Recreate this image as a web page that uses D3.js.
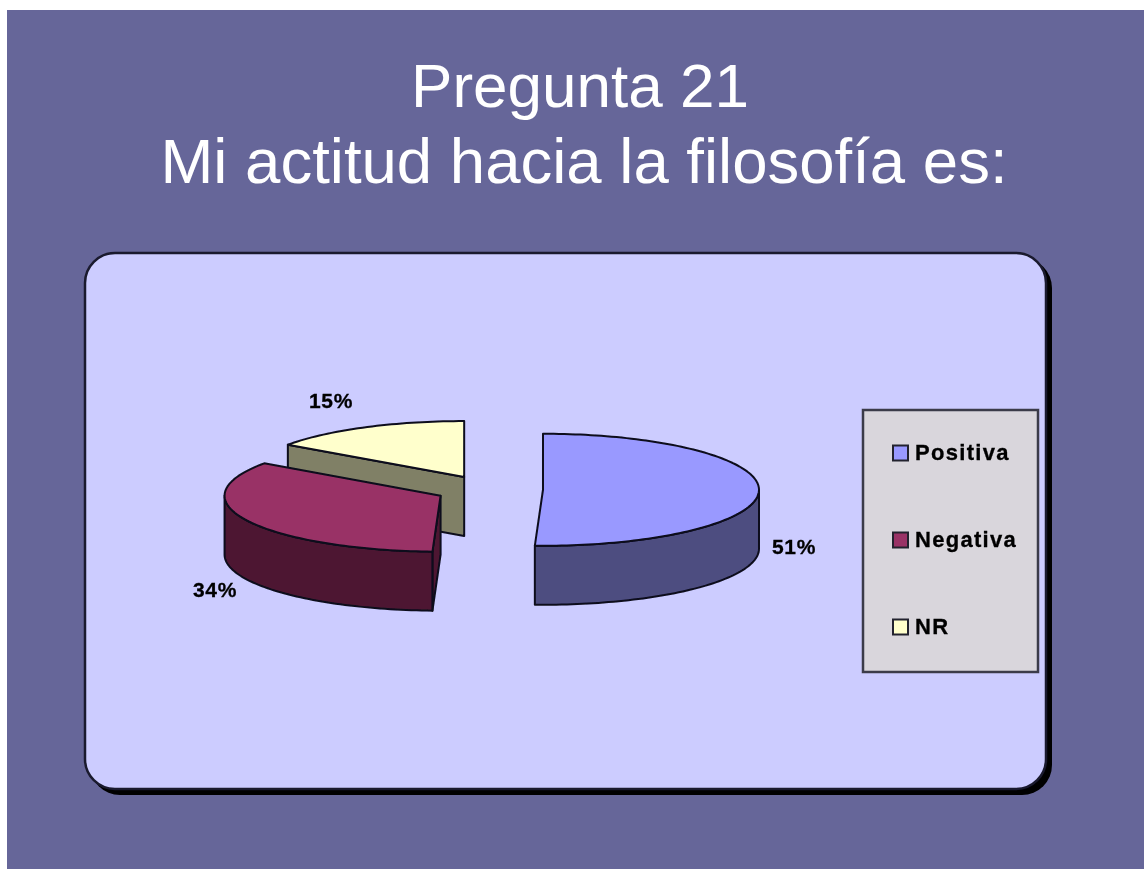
<!DOCTYPE html>
<html>
<head>
<meta charset="utf-8">
<script src="https://cdn.jsdelivr.net/npm/d3@7"></script>
<style>
  html, body { margin: 0; padding: 0; background: #fff; }
  svg { display: block; }
  text { font-family: "Liberation Sans", Arial, sans-serif; }
</style>
</head>
<body>
<div id="pieChart"></div>
<script>
// chart data, the labels are rounded to whole percents
var titleLines = ["Pregunta 21", "Mi actitud hacia la filosofía es:"];
var categories = ["Positiva", "Negativa", "NR"];
var values = [50.6, 34.2, 15.2];
var topColors = ["#9999ff", "#993366", "#ffffcc"];
var sideColors = ["#4d4d80", "#4d1933", "#808066"];

var width = 1144,
    height = 869;

// pie is squashed into an ellipse, "depth" is the wall height
var pieX = 489, pieY = 489.5,
    rx = 216, ry = 56,
    depth = 59,
    explode = 0.25;

var titleX = [580, 584],
    titleY = [107, 183],
    titleSize = [62, 63.5];
var labelPos = [[794, 547], [215, 590], [331, 401]];

var svg = d3.select("#pieChart")
    .append("svg")
    .attr("width", width)
    .attr("height", height);

// slight blur, the source picture is a scaled up screenshot
var blur = svg.append("defs").append("filter")
    .attr("id", "soft");
blur.append("feGaussianBlur").attr("stdDeviation", 0.55);

// background slide
svg.append("rect")
    .attr("x", 7).attr("y", 10)
    .attr("width", width - 7).attr("height", height - 10)
    .attr("fill", "#666699");

svg.append("g")
    .attr("filter", "url(#soft)")
    .selectAll("text")
    .data(titleLines)
    .enter()
    .append("text")
    .attr("x", function(d, i) { return titleX[i]; })
    .attr("y", function(d, i) { return titleY[i]; })
    .attr("text-anchor", "middle")
    .attr("font-size", function(d, i) { return titleSize[i]; })
    .attr("fill", "#ffffff")
    .text(function(d) { return d; });

// panel with its shadow
svg.append("rect")
    .attr("x", 90).attr("y", 258)
    .attr("width", 962).attr("height", 537)
    .attr("rx", 30)
    .attr("fill", "#000000");

svg.append("rect")
    .attr("x", 85).attr("y", 253)
    .attr("width", 961).attr("height", 536)
    .attr("rx", 30)
    .attr("fill", "#ccccff")
    .attr("stroke", "#1a1a2e")
    .attr("stroke-width", 2.5);

var chart = svg.append("g").attr("filter", "url(#soft)");

var pie = d3.pie().sort(null);
var arcs = pie(values);

// angle goes clockwise from north, as in d3.pie
function project(a, r) {
    return [Math.sin(a) * rx * r, -Math.cos(a) * ry * r];
}

function arcPoints(a0, a1, dy) {
    var n = Math.max(2, Math.ceil((a1 - a0) * 40));
    return d3.range(n + 1).map(function(i) {
        var p = project(a0 + (a1 - a0) * i / n, 1);
        return [p[0], p[1] + dy];
    });
}

var line = d3.line();
var halfPi = Math.PI / 2;

// back slices first, so the front ones cover them
var order = [2, 1, 0];

var slices = chart.selectAll("g.slice")
    .data(order)
    .enter()
    .append("g")
    .attr("class", "slice")
    .attr("transform", function(i) {
        var mid = (arcs[i].startAngle + arcs[i].endAngle) / 2;
        var p = project(mid, explode);
        return "translate(" + (pieX + p[0]) + "," + (pieY + p[1]) + ")";
    });

slices.each(function(i) {
    var g = d3.select(this);
    var a0 = arcs[i].startAngle, a1 = arcs[i].endAngle;
    var walls = [];
    var start = arcPoints(a0, a0, 0)[0];

    // flat wall on the side of a cut, only if it faces the viewer
    if (Math.sin(a0) < 0) {
        walls.push([[0, 0], start, [start[0], start[1] + depth], [0, depth]]);
    }

    // rounded wall, the part of the rim on the front half
    var from = Math.max(a0, halfPi), to = Math.min(a1, 3 * halfPi);
    if (to > from) {
        walls.push(arcPoints(from, to, 0).concat(arcPoints(from, to, depth).reverse()));
    }

    walls.forEach(function(w) {
        g.append("path")
            .attr("d", line(w) + "Z")
            .attr("fill", sideColors[i])
            .attr("stroke", "#0c0c1c")
            .attr("stroke-width", 2)
            .attr("stroke-linejoin", "round");
    });

    // top face
    g.append("path")
        .attr("d", line([[0, 0]].concat(arcPoints(a0, a1, 0))) + "Z")
        .attr("fill", topColors[i])
        .attr("stroke", "#0c0c1c")
        .attr("stroke-width", 2)
        .attr("stroke-linejoin", "round");
});

// percent labels
chart.selectAll("text.pct")
    .data(values)
    .enter()
    .append("text")
    .attr("class", "pct")
    .attr("x", function(d, i) { return labelPos[i][0]; })
    .attr("y", function(d, i) { return labelPos[i][1] + 7; })
    .attr("text-anchor", "middle")
    .attr("font-size", 21)
    .attr("font-weight", "bold")
    .attr("letter-spacing", 0.6)
    .attr("fill", "#000000")
    .attr("stroke", "#000000")
    .attr("stroke-width", 0.3)
    .text(function(d) { return Math.round(d) + "%"; });

// legend
chart.append("rect")
    .attr("x", 863).attr("y", 410)
    .attr("width", 175).attr("height", 262)
    .attr("fill", "#d9d6dc")
    .attr("stroke", "#3a3a48")
    .attr("stroke-width", 2.5);

var legendY = d3.scalePoint()
    .domain(categories)
    .range([453, 627]);

var legend = chart.selectAll("g.legend")
    .data(categories)
    .enter()
    .append("g")
    .attr("class", "legend")
    .attr("transform", function(d) { return "translate(893," + legendY(d) + ")"; });

legend.append("rect")
    .attr("y", -7.5)
    .attr("width", 15)
    .attr("height", 15)
    .attr("fill", function(d, i) { return topColors[i]; })
    .attr("stroke", "#22222e")
    .attr("stroke-width", 2);

legend.append("text")
    .attr("x", 22)
    .attr("y", 7)
    .attr("font-size", 22)
    .attr("font-weight", "bold")
    .attr("letter-spacing", 1.3)
    .attr("fill", "#000000")
    .attr("stroke", "#000000")
    .attr("stroke-width", 0.3)
    .text(function(d) { return d; });
</script>
</body>
</html>
